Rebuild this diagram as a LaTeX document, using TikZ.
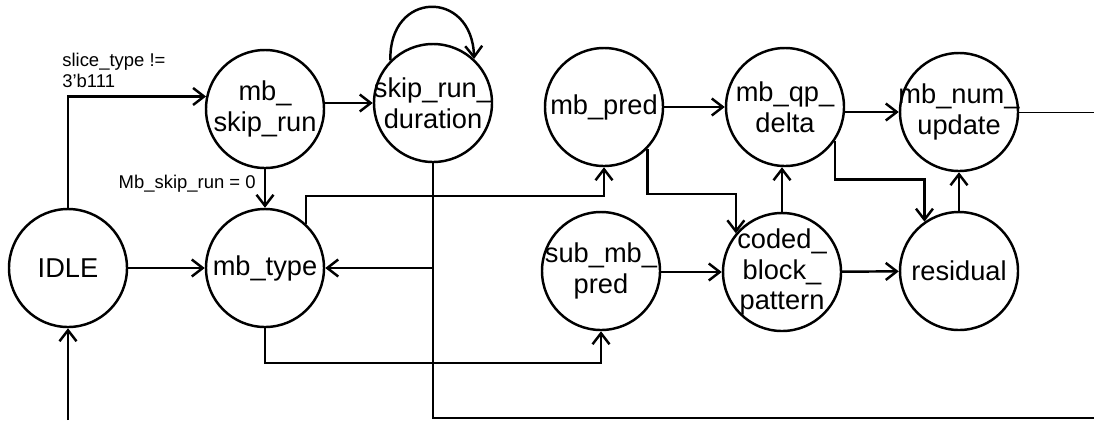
\documentclass[tikz,border=0pt]{standalone}
\usepackage{fontspec}
\setmainfont{Liberation Sans}
\usetikzlibrary{arrows.meta}

\tikzset{
  state/.style={circle,draw,line width=1.4pt,minimum size=23.6mm,inner sep=0pt},
  statetext/.style={align=center,inner sep=0pt,font=\fontsize{15.5}{17.5}\selectfont},
  cond/.style={align=left,inner sep=0pt,font=\fontsize{10.5}{12}\selectfont},
  trans/.style={line width=1.4pt,-{Straight Barb[length=2.2mm,width=3.4mm]}},
  wire/.style={line width=1.4pt},
}

% a state bubble: name, position, text
\newcommand\fsmstate[3]{
  \node[state,label={[statetext]center:{#3}}] (#1) at (#2) {};
}

\begin{document}
\begin{tikzpicture}[x=0.2mm,y=-0.2mm]
  \useasboundingbox (0,0) rectangle (1094,420);

  % states
  \fsmstate{idle}{68,268}{IDLE}
  \fsmstate{skip}{265,109}{mb\_\\skip\_run}
  \fsmstate{dur}{433,103}{skip\_run\_\\duration}
  \fsmstate{mtype}{265,268}{mb\_type}
  \fsmstate{mpred}{604,107}{mb\_pred}
  \fsmstate{mqp}{785,107}{mb\_qp\_\\delta}
  \fsmstate{mnum}{959,112}{mb\_num\_\\update}
  \fsmstate{submb}{601,271}{sub\_mb\_\\pred}
  \fsmstate{cbp}{782,272}{coded\_\\block\_\\pattern}
  \fsmstate{res}{959,271}{residual}

  % loose ends running off the page
  \coordinate (idlein) at (68,420);
  \coordinate (outbot) at (1094,418);
  \coordinate (outtop) at (1094,112);

  % skip path
  \draw[trans] (idle.north) |- (skip.168);
  \node[cond,anchor=north west] (cslice) at (62,53) {slice\_type !=\\3'b111};
  \draw[trans] (skip.east |- dur.west) -- (dur.west);
  \draw[trans] (skip.south) -- (mtype.north);
  \node[cond,anchor=east] (cskip) at (256,184) {Mb\_skip\_run = 0};
  \draw[trans] (dur.135) .. controls +(-2,-70) and +(-2,-70) .. (dur.47);
  \draw[wire] (dur.south) |- (outbot);
  \draw[trans] (dur.south |- mtype.east) -- (mtype.east);

  % macroblock path
  \draw[trans] (idle.east) -- (mtype.west);
  \draw[trans] (mtype.47) -- ++(0,-28) -| (mpred.south);
  \draw[trans] (mtype.south) -- ++(0,35) -| (submb.south);
  \draw[trans] (mpred) -- (mqp);
  \draw[trans] (mpred.-44) -- ++(0,45) -| (cbp.140);
  \draw[trans] (mqp.east |- mnum.west) -- (mnum.west);
  \draw[trans] (mqp.-34) -- ++(0,39) -| (res.125);
  \draw[trans] (cbp.north) -- (cbp.north |- mqp.south);
  \draw[trans] (res.north) -- (mnum.south);
  \draw[trans] (submb.east |- cbp.west) -- (cbp.west);
  \draw[trans] (cbp) -- (res);
  \draw[trans] (idlein) -- (idle.south);
  \draw[thin] (mnum.east) -- (outtop);

\end{tikzpicture}
\end{document}
